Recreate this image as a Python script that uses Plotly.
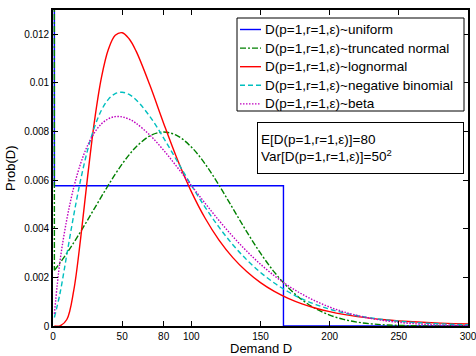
import plotly.graph_objects as go

# ---- data ----
demand = [1, 5, 10, 15, 20, 25, 30, 35, 40, 45, 50, 55, 60, 70, 80, 90, 100,
          110, 120, 130, 140, 150, 160, 170, 180, 190, 200, 210, 220, 230,
          240, 250, 260, 270, 280, 290, 300]

trunc_normal = [0.002290, 0.002590, 0.002995, 0.003427, 0.003884, 0.004357,
                0.004839, 0.005322, 0.005794, 0.006245, 0.006665, 0.007041,
                0.007365, 0.007821, 0.007979, 0.007821, 0.007365, 0.006665,
                0.005794, 0.004839, 0.003884, 0.002995, 0.002218, 0.001579,
                0.001080, 0.000709, 0.000448, 0.000272, 0.000158, 0.0000887,
                0.0000477, 0.0000246, 0.0000122, 0.0000058, 0.0000027,
                0.0000012, 0.0000005]

lognormal = [0.0, 0.0000046, 0.000268, 0.001466, 0.003617, 0.006132, 0.008438,
             0.010218, 0.011375, 0.011957, 0.012065, 0.011815, 0.011317,
             0.009910, 0.008334, 0.006838, 0.005529, 0.004432, 0.003535,
             0.002814, 0.002239, 0.001783, 0.001422, 0.001137, 0.000911,
             0.000732, 0.000590, 0.000477, 0.000387, 0.000315, 0.000257,
             0.000211, 0.000173, 0.000143, 0.000118, 0.0000976, 0.0000812]

neg_binomial = [0.00035, 0.001327, 0.002941, 0.004564, 0.006020, 0.007234,
                0.008184, 0.008874, 0.009324, 0.009562, 0.009618, 0.009524,
                0.009311, 0.008623, 0.007731, 0.006757, 0.005791, 0.004884,
                0.004064, 0.003345, 0.002726, 0.002204, 0.001768, 0.001409,
                0.001117, 0.000882, 0.000693, 0.000542, 0.000423, 0.000328,
                0.000254, 0.000196, 0.000151, 0.000116, 0.0000890, 0.0000681,
                0.0000520]

beta = [0.00050, 0.002645, 0.004389, 0.005700, 0.006690, 0.007428, 0.007957,
        0.008314, 0.008524, 0.008614, 0.008603, 0.008508, 0.008343, 0.007856,
        0.007228, 0.006519, 0.005781, 0.005047, 0.004342, 0.003683, 0.003081,
        0.002542, 0.002068, 0.001658, 0.001310, 0.001019, 0.000779, 0.000585,
        0.000431, 0.000310, 0.000219, 0.000150, 0.0000998, 0.0000641,
        0.0000396, 0.0000234, 0.0000131]

uniform_demand = [1, 1, 166.6, 166.6, 300]
uniform_prob = [0.038, 0.00577, 0.00577, 0.0, 0.0]
normal_mass_at_zero = 0.0548

series_names = ["D(p=1,r=1,ε)~uniform", "D(p=1,r=1,ε)~truncated normal",
                "D(p=1,r=1,ε)~lognormal", "D(p=1,r=1,ε)~negative binomial",
                "D(p=1,r=1,ε)~beta"]

x_tickvals = [0, 50, 80, 100, 150, 200, 250, 300]
x_ticktext = ["0", "50", "80", "100", "150", "200", "250", "300"]
y_tickvals = [0, 0.002, 0.004, 0.006, 0.008, 0.010, 0.012]
y_ticktext = ["0", "0.002", "0.004", "0.006", "0.008", "0.01", "0.012"]

# ---- styling ----
FONT = "Liberation Sans, Arial, Helvetica, sans-serif"
BLUE = "#0000FF"
GREEN = "#008000"
RED = "#FF0000"
CYAN = "#00BFBF"
MAGENTA = "#BF00BF"
LW = 1.4
DASH_TN = "6px,2px,2px,2px"
DASH_NB = "5px,3px"
DASH_BETA = "1.5px,1.5px"
series_colors = [BLUE, GREEN, RED, CYAN, MAGENTA]
series_dash = ["solid", DASH_TN, "solid", DASH_NB, DASH_BETA]

W, H = 476, 356
ML, MR, MT, MB = 53, 8, 10, 30
PW, PH = W - ML - MR, H - MT - MB


def px_x(p):
    return (p - ML) / PW


def px_y(p):
    return (H - MB - p) / PH


fig = go.Figure()
fig.add_trace(go.Scatter(x=uniform_demand, y=uniform_prob, mode="lines",
                         name=series_names[0],
                         line=dict(color=BLUE, width=LW)))
fig.add_trace(go.Scatter(x=demand, y=trunc_normal, mode="lines",
                         name=series_names[1],
                         line=dict(color=GREEN, width=LW, shape="spline",
                                   dash=DASH_TN)))
fig.add_trace(go.Scatter(x=demand, y=lognormal, mode="lines",
                         name=series_names[2],
                         line=dict(color=RED, width=LW, shape="spline")))
fig.add_trace(go.Scatter(x=demand, y=neg_binomial, mode="lines",
                         name=series_names[3],
                         line=dict(color=CYAN, width=LW, shape="spline",
                                   dash=DASH_NB)))
fig.add_trace(go.Scatter(x=demand, y=beta, mode="lines",
                         name=series_names[4],
                         line=dict(color=MAGENTA, width=LW, shape="spline",
                                   dash=DASH_BETA)))
fig.add_trace(go.Scatter(x=[demand[0], demand[0]],
                         y=[normal_mass_at_zero, trunc_normal[0]],
                         mode="lines", name=series_names[1] + " (mass at 0)",
                         line=dict(color=GREEN, width=LW, dash=DASH_TN)))

axis_common = dict(showline=True, linecolor="black", linewidth=1.6,
                   mirror="ticks", ticks="inside", ticklen=5, tickwidth=1,
                   tickcolor="black", showgrid=False, zeroline=False,
                   ticklabeloverflow="allow",
                   tickfont=dict(family=FONT, size=10, color="black"))

# ---- legend box drawn as in the reference (MATLAB-style) ----
shapes = []
annotations = []
leg_left, leg_right, leg_top, leg_bottom = 237, 464, 18, 111
shapes.append(dict(type="rect", xref="paper", yref="paper", layer="above",
                   x0=px_x(leg_left), x1=px_x(leg_right),
                   y0=px_y(leg_bottom), y1=px_y(leg_top),
                   line=dict(color="black", width=1), fillcolor="white"))
for i, name in enumerate(series_names):
    row_y = 29.5 + 18.6 * i
    shapes.append(dict(type="line", xref="paper", yref="paper", layer="above",
                       x0=px_x(240), x1=px_x(261), y0=px_y(row_y),
                       y1=px_y(row_y),
                       line=dict(color=series_colors[i], width=LW,
                                 dash=series_dash[i])))
    annotations.append(dict(text=name, xref="paper", yref="paper",
                            x=px_x(263), y=px_y(row_y), xanchor="left",
                            yanchor="middle", showarrow=False,
                            font=dict(family=FONT, size=13.5, color="black")))

annotations += [
    dict(text="Demand D", xref="paper", yref="paper", x=0.5, y=0,
         yshift=-22, xanchor="center", yanchor="middle", showarrow=False,
         font=dict(family=FONT, size=13)),
    dict(text="Prob(D)", xref="paper", yref="paper", x=0, y=0.5,
         xshift=-43, textangle=-90, xanchor="center", yanchor="middle",
         showarrow=False, font=dict(family=FONT, size=13)),
    dict(text="E[D(p=1,r=1,ε)]=80<br>Var[D(p=1,r=1,ε)]=50<sup>2</sup>",
         xref="paper", yref="paper", x=px_x(257), y=px_y(122),
         xanchor="left", yanchor="top", align="left", showarrow=False,
         bordercolor="black", borderwidth=1, borderpad=3,
         bgcolor="white", width=199, height=44,
         font=dict(family=FONT, size=13.5)),
]

fig.update_layout(
    template="none",
    width=W, height=H,
    margin=dict(l=ML, r=MR, t=MT, b=MB),
    paper_bgcolor="white", plot_bgcolor="white",
    font=dict(family=FONT, size=13, color="black"),
    xaxis=dict(range=[0, 300], tickvals=x_tickvals, ticktext=x_ticktext,
               **axis_common),
    yaxis=dict(range=[0, 0.013], tickvals=y_tickvals, ticktext=y_ticktext,
               **axis_common),
    showlegend=False,
    shapes=shapes,
    annotations=annotations,
)

fig.write_html("out.html")
